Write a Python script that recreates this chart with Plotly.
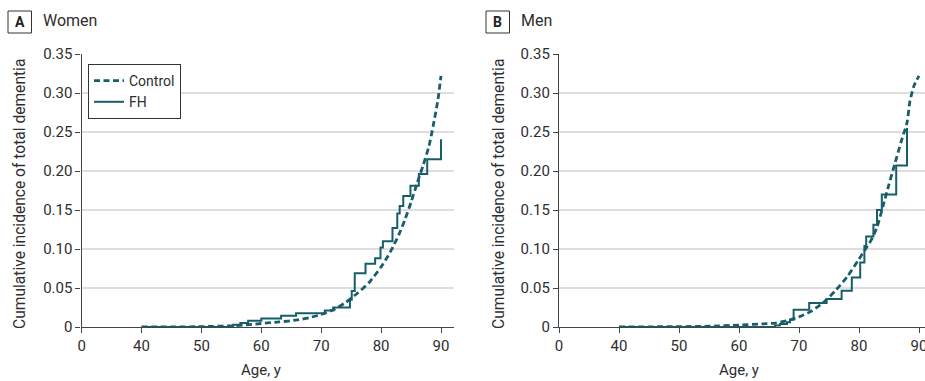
import plotly.graph_objects as go

# ---------------- data ----------------
# Women (panel A)
women_control_age = [40, 45, 50, 55, 58, 60, 63, 66, 68, 70, 72, 74, 76, 78, 80, 81, 82, 83, 84, 85, 86, 87, 88, 88.7, 89.5, 90]
women_control_inc = [0, 0, 0.0005, 0.0015, 0.003, 0.0045, 0.0065, 0.009, 0.012, 0.016, 0.022, 0.031, 0.043, 0.057, 0.077, 0.089, 0.103, 0.119, 0.138, 0.160, 0.184, 0.207, 0.232, 0.258, 0.292, 0.322]

women_fh_age = [40, 55.3, 56.5, 57.8, 60, 63.3, 65.8, 70.6, 72, 74.8, 75.1, 75.6, 77.4, 79.0, 79.9, 80.3, 81.9, 82.7, 83.1, 83.7, 84.9, 86.3, 87.7, 90.0]
women_fh_inc = [0, 0.003, 0.005, 0.008, 0.011, 0.0145, 0.0175, 0.021, 0.025, 0.035, 0.046, 0.069, 0.081, 0.088, 0.102, 0.110, 0.127, 0.1455, 0.155, 0.168, 0.181, 0.196, 0.215, 0.2406]

# Men (panel B)
men_control_age = [40, 50, 55, 60, 64, 66, 68, 70, 72, 74, 76, 78, 80, 81, 82, 83, 84, 85, 86, 87, 88, 88.5, 89.2, 90]
men_control_inc = [0, 0.0005, 0.001, 0.0025, 0.004, 0.005, 0.008, 0.013, 0.02, 0.031, 0.046, 0.064, 0.087, 0.099, 0.111, 0.128, 0.155, 0.183, 0.210, 0.237, 0.262, 0.290, 0.310, 0.322]

men_fh_age = [40, 66.0, 66.8, 68.0, 68.5, 69.1, 71.7, 74.6, 77.1, 78.8, 80.2, 80.9, 81.2, 82.4, 83.0, 83.8, 86.2, 88.0]
men_fh_inc = [0, 0.002, 0.004, 0.006, 0.0094, 0.022, 0.0307, 0.036, 0.0465, 0.0636, 0.0828, 0.104, 0.116, 0.131, 0.150, 0.170, 0.207, 0.255]

# axis: 0 then a break, 40..90 evenly spaced
tick_ages = [0, 40, 50, 60, 70, 80, 90]
tick_labels = ["0", "40", "50", "60", "70", "80", "90"]
y_ticks = [0, 0.05, 0.10, 0.15, 0.20, 0.25, 0.30, 0.35]
y_labels = ["0", "0.05", "0.10", "0.15", "0.20", "0.25", "0.30", "0.35"]


def to_axis(a):
    return 0 if a == 0 else a - 30


def conv(lst):
    return [to_axis(a) for a in lst]


COLOR = "#175e69"
TEXT = "#2e2e2e"
AXIS = "#444444"
GRID = "#dedede"
FONT = "Roboto"

W, H = 925, 381
ML, MR, MT, MB = 0, 0, 54, 54
PH = H - MT - MB
y0px = H - MB  # pixel row of y=0


def px_x(px):
    return px / W


def px_y(py):
    return (y0px - py) / PH


fig = go.Figure()

dash = "6px,3.5px"
fig.add_trace(go.Scatter(x=conv(women_control_age), y=women_control_inc, mode="lines",
                         line=dict(color=COLOR, width=2.8, dash=dash, shape="spline", smoothing=0.6),
                         name="Control", xaxis="x", yaxis="y"))
fig.add_trace(go.Scatter(x=conv(women_fh_age), y=women_fh_inc, mode="lines",
                         line=dict(color=COLOR, width=2, shape="hv"),
                         name="FH", xaxis="x", yaxis="y"))
fig.add_trace(go.Scatter(x=conv(men_control_age), y=men_control_inc, mode="lines",
                         line=dict(color=COLOR, width=2.8, dash=dash, shape="spline", smoothing=0.6),
                         name="Control", showlegend=False, xaxis="x2", yaxis="y2"))
fig.add_trace(go.Scatter(x=conv(men_fh_age), y=men_fh_inc, mode="lines",
                         line=dict(color=COLOR, width=2, shape="hv"),
                         name="FH", showlegend=False, xaxis="x2", yaxis="y2"))

ax_common = dict(showline=True, linecolor=AXIS, linewidth=1.3, ticks="outside", ticklen=5,
                 tickcolor=AXIS, tickwidth=1.3, tickfont=dict(family=FONT, size=15, color=TEXT),
                 zeroline=False, automargin=False)

xa = dict(ax_common, tickvals=[to_axis(a) for a in tick_ages], ticktext=tick_labels,
          showgrid=False, ticklabeloverflow="allow")
ya = dict(ax_common, tickvals=y_ticks, ticktext=y_labels, range=[0, 0.35],
          showgrid=True, gridcolor=GRID, gridwidth=1.5)

A_left, A_right = 81.6, 454
B_left = 559
px_per_unit = 6.0

fig.update_layout(
    width=W, height=H,
    margin=dict(l=ML, r=MR, t=MT, b=MB, pad=0),
    paper_bgcolor="white", plot_bgcolor="white",
    font=dict(family=FONT, size=15, color=TEXT),
    xaxis=dict(xa, domain=[px_x(A_left), px_x(A_right)], range=[0, (A_right - A_left) / 5.99], anchor="y"),
    yaxis=dict(ya, domain=[0, 1], anchor="x"),
    xaxis2=dict(xa, domain=[px_x(B_left), 1], range=[0, (W - B_left) / px_per_unit], anchor="y2"),
    yaxis2=dict(ya, domain=[0, 1], anchor="x2"),
    showlegend=True,
    legend=dict(x=px_x(88), y=px_y(64), xanchor="left", yanchor="top",
                bordercolor="#333333", borderwidth=1, bgcolor="white",
                font=dict(family=FONT, size=14, color=TEXT),
                tracegroupgap=0, itemwidth=30),
)

annotations = []
shapes = []
for (bx0, letter, title, ylab_x, x_ref) in [(8, "A", "Women", 20, "x"), (486, "B", "Men", 499, "x2")]:
    shapes.append(dict(type="rect", xref="paper", yref="paper",
                       x0=px_x(bx0), x1=px_x(bx0 + 23.5), y0=px_y(33), y1=px_y(11),
                       line=dict(color="#333333", width=1), fillcolor="white"))
    annotations.append(dict(xref="paper", yref="paper", x=px_x(bx0 + 11.8), y=px_y(22),
                            text="<b>%s</b>" % letter, showarrow=False,
                            xanchor="center", yanchor="middle",
                            font=dict(family=FONT, size=14, color="#222222")))
    annotations.append(dict(xref="paper", yref="paper", x=px_x(bx0 + 33), y=px_y(21),
                            text=title, showarrow=False, xanchor="left", yanchor="middle",
                            font=dict(family=FONT, size=16, color=TEXT)))
    annotations.append(dict(xref="paper", yref="paper", x=px_x(ylab_x), y=px_y(194),
                            text="Cumulative incidence of total dementia", textangle=-90,
                            showarrow=False, xanchor="center", yanchor="middle",
                            font=dict(family=FONT, size=15.6, color=TEXT)))
    annotations.append(dict(xref=x_ref, yref="paper", x=30, y=px_y(370),
                            text="Age, y", showarrow=False, xanchor="center", yanchor="middle",
                            font=dict(family=FONT, size=15, color=TEXT)))

fig.update_layout(annotations=annotations, shapes=shapes)

fig.write_html("out.html", config={"displayModeBar": False},
               post_script="document.body.style.margin='0';document.body.style.padding='0';")
